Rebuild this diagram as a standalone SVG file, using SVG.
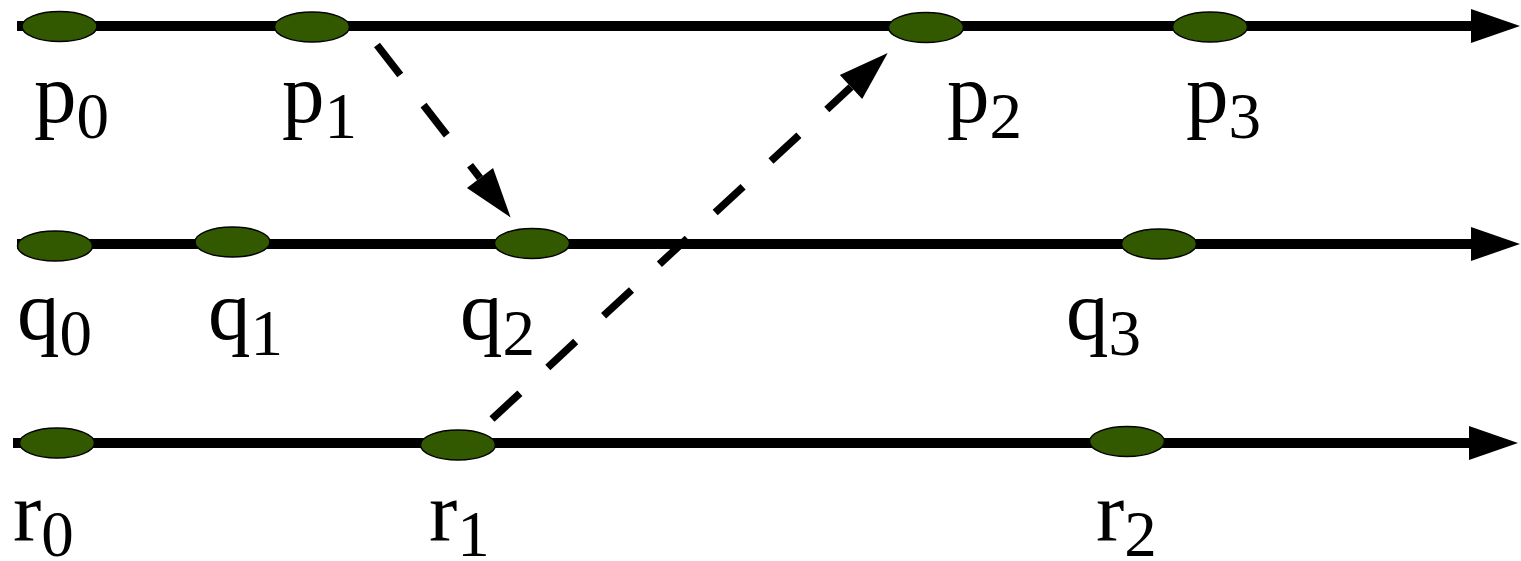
<svg xmlns="http://www.w3.org/2000/svg" width="1521" height="561" viewBox="0 0 1521 561">
  <style>
    .tl { stroke: #000; stroke-width: 10; fill: none; }
    .msg { stroke: #000; stroke-width: 7.5; fill: none; stroke-dasharray: 38 38; }
    .ev { fill: #335900; stroke: #000; stroke-width: 1.5; }
    .lb { font-family: "Liberation Serif", "Times New Roman", serif; font-size: 85px; fill: #000; }
    .sub { font-size: 65px; }
  </style>
  <defs>
    <marker id="head" markerUnits="userSpaceOnUse" markerWidth="50" markerHeight="34" refX="0" refY="17" orient="auto" overflow="visible">
      <path d="M0,0 L49,17 L0,34 Z" fill="#000" stroke="none"/>
    </marker>
    <marker id="dhead" markerUnits="userSpaceOnUse" markerWidth="50" markerHeight="34" refX="0" refY="16.5" orient="auto" overflow="visible">
      <path d="M0,0 L50,16.5 L0,33 Z" fill="#000" stroke="none"/>
    </marker>
  </defs>

  <g id="timelines">
    <line class="tl" x1="17" y1="26" x2="1471" y2="26" marker-end="url(#head)"/>
    <line class="tl" x1="17" y1="244" x2="1471" y2="244" marker-end="url(#head)"/>
    <line class="tl" x1="13" y1="443" x2="1469" y2="443" marker-end="url(#head)"/>
  </g>

  <g id="connectors">
    <line class="msg" x1="377" y1="45" x2="480" y2="178" marker-end="url(#dhead)"/>
    <line class="msg" x1="492" y1="419" x2="851" y2="87" marker-end="url(#dhead)"/>
  </g>

  <g id="p0"><ellipse class="ev" cx="59.5" cy="26.5" rx="37.5" ry="15"/><text class="lb" x="34" y="122">p<tspan class="sub" y="138">0</tspan></text></g>
  <g id="p1"><ellipse class="ev" cx="312" cy="27" rx="37.5" ry="15"/><text class="lb" x="282" y="122">p<tspan class="sub" y="138">1</tspan></text></g>
  <g id="p2"><ellipse class="ev" cx="926" cy="27.5" rx="37.5" ry="15"/><text class="lb" x="947" y="122">p<tspan class="sub" y="138">2</tspan></text></g>
  <g id="p3"><ellipse class="ev" cx="1210" cy="27" rx="37.5" ry="15"/><text class="lb" x="1186" y="122">p<tspan class="sub" y="138">3</tspan></text></g>

  <g id="q0"><ellipse class="ev" cx="55" cy="246" rx="37.5" ry="15"/><text class="lb" x="17" y="339">q<tspan class="sub" y="355">0</tspan></text></g>
  <g id="q1"><ellipse class="ev" cx="232.5" cy="242" rx="37.5" ry="15"/><text class="lb" x="208" y="339">q<tspan class="sub" y="355">1</tspan></text></g>
  <g id="q2"><ellipse class="ev" cx="532" cy="243.5" rx="37.5" ry="15"/><text class="lb" x="460" y="339">q<tspan class="sub" y="355">2</tspan></text></g>
  <g id="q3"><ellipse class="ev" cx="1159" cy="244" rx="37.5" ry="15"/><text class="lb" x="1066" y="339">q<tspan class="sub" y="355">3</tspan></text></g>

  <g id="r0"><ellipse class="ev" cx="57" cy="443" rx="37.5" ry="15"/><text class="lb" x="13" y="540">r<tspan class="sub" y="556">0</tspan></text></g>
  <g id="r1"><ellipse class="ev" cx="458" cy="445" rx="37.5" ry="15"/><text class="lb" x="429" y="540">r<tspan class="sub" y="556">1</tspan></text></g>
  <g id="r2"><ellipse class="ev" cx="1127" cy="441.5" rx="37.5" ry="15"/><text class="lb" x="1096" y="540">r<tspan class="sub" y="556">2</tspan></text></g>
</svg>
